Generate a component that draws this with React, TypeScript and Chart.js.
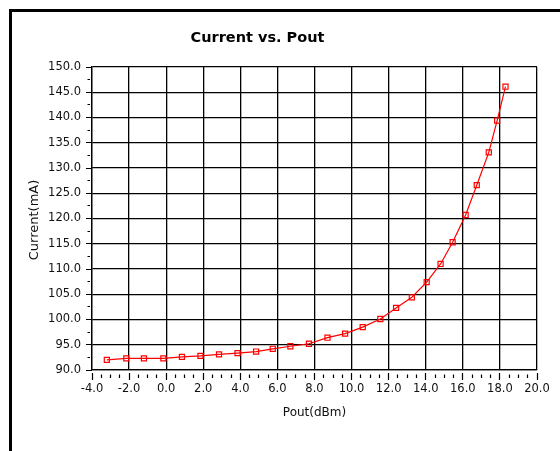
import { useEffect, useRef } from 'react';
import { Chart, registerables } from 'chart.js';

Chart.register(...registerables);

// ---- data ----
const poutDbm = [
  -3.2, -2.15, -1.2, -0.15, 0.85, 1.85, 2.85, 3.85, 4.85, 5.75,
  6.7, 7.7, 8.7, 9.65, 10.6, 11.55, 12.4, 13.25, 14.05, 14.8,
  15.45, 16.15, 16.75, 17.4, 17.85, 18.3,
];
const currentMa = [
  92.0, 92.3, 92.3, 92.3, 92.6, 92.8, 93.1, 93.35, 93.65, 94.2,
  94.7, 95.2, 96.4, 97.2, 98.5, 100.1, 102.3, 104.4, 107.4, 111.0,
  115.3, 120.7, 126.6, 133.1, 139.4, 146.1,
];

const xMin = -4;
const xMax = 20;
const xStep = 2;
const xMinorStep = 0.5;
const yMin = 90;
const yMax = 150;
const yStep = 5;
const yMinorStep = 2.5;

const chartTitle = 'Current vs. Pout';
const xTitle = 'Pout(dBm)';
const yTitle = 'Current(mA)';

const FONT = '"DejaVu Sans", "Liberation Sans", Arial, sans-serif';

const decor = {
  id: 'decor',
  beforeDraw(chart: any) {
    const ctx = chart.ctx as CanvasRenderingContext2D;
    ctx.save();
    ctx.fillStyle = '#ffffff';
    ctx.fillRect(0, 0, chart.width, chart.height);
    ctx.fillStyle = '#000000';
    ctx.fillRect(9, 9, chart.width - 9, 3);
    ctx.fillRect(9, 9, 3, chart.height - 9);
    ctx.restore();
  },
  afterDraw(chart: any) {
    const ctx = chart.ctx as CanvasRenderingContext2D;
    const { x, y } = chart.scales;
    const area = chart.chartArea;
    ctx.save();
    ctx.strokeStyle = '#000000';
    ctx.lineWidth = 1.2;
    ctx.beginPath();
    const nx = Math.round((xMax - xMin) / xMinorStep);
    for (let i = 0; i <= nx; i++) {
      const v = xMin + i * xMinorStep;
      const px = Math.round(x.getPixelForValue(v) - 0.5) + 0.5;
      const major = i % Math.round(xStep / xMinorStep) === 0;
      const b = Math.round(area.bottom);
      if (major) {
        ctx.moveTo(px, b + 3);
        ctx.lineTo(px, b + 10);
      } else {
        ctx.moveTo(px, b + 4.5);
        ctx.lineTo(px, b + 8);
      }
    }
    const ny = Math.round((yMax - yMin) / yMinorStep);
    for (let i = 0; i <= ny; i++) {
      const v = yMin + i * yMinorStep;
      const py = Math.round(y.getPixelForValue(v) - 0.5) + 0.5;
      const major = i % Math.round(yStep / yMinorStep) === 0;
      const l = Math.round(area.left);
      if (major) {
        ctx.moveTo(l - 6, py);
        ctx.lineTo(l, py);
      } else {
        ctx.moveTo(l - 4.5, py);
        ctx.lineTo(l - 2, py);
      }
    }
    ctx.stroke();

    ctx.fillStyle = '#000000';
    ctx.textAlign = 'center';
    ctx.textBaseline = 'middle';
    ctx.font = `bold 14.5px ${FONT}`;
    ctx.fillText(chartTitle, 257.5, 38.5);

    ctx.fillStyle = '#111111';
    ctx.font = `12px ${FONT}`;
    ctx.fillText(xTitle, (area.left + area.right) / 2, 412.5);

    ctx.save();
    ctx.translate(35, 220);
    ctx.rotate(-Math.PI / 2);
    ctx.font = `13px ${FONT}`;
    ctx.fillText(yTitle, 0, 0);
    ctx.restore();

    ctx.restore();
  },
};

export default function App() {
  const ref = useRef<HTMLCanvasElement | null>(null);

  useEffect(() => {
    document.body.style.margin = '0';
    const canvas = ref.current;
    if (!canvas) return;
    const chart = new Chart(canvas, {
      type: 'scatter',
      data: {
        datasets: [
          {
            data: poutDbm.map((xv, i) => ({ x: xv, y: currentMa[i] })),
            showLine: true,
            borderColor: '#ff0000',
            borderWidth: 1.2,
            tension: 0,
            pointStyle: 'rect',
            pointRadius: 3.6,
            pointHoverRadius: 3.6,
            pointBorderColor: '#ff0000',
            pointBackgroundColor: 'rgba(0,0,0,0)',
            pointBorderWidth: 1.2,
          },
        ],
      },
      options: {
        responsive: false,
        animation: false,
        devicePixelRatio: 1,
        layout: { padding: { top: 67, right: 23, left: 0, bottom: 0 } },
        plugins: {
          legend: { display: false },
          tooltip: { enabled: false },
          title: { display: false },
        },
        scales: {
          x: {
            type: 'linear',
            min: xMin,
            max: xMax,
            ticks: {
              stepSize: xStep,
              padding: 12,
              color: '#111111',
              font: { family: FONT, size: 11.5 },
              callback: (v: any) => Number(v).toFixed(1),
            },
            grid: { color: '#000000', lineWidth: 1.3, drawTicks: false },
            border: { display: true, color: '#000000', width: 1.3 },
            afterFit: (s: any) => {
              s.height = 81;
              s.paddingLeft = 0;
              s.paddingRight = 0;
            },
          },
          y: {
            type: 'linear',
            min: yMin,
            max: yMax,
            ticks: {
              stepSize: yStep,
              padding: 11,
              color: '#111111',
              font: { family: FONT, size: 11.5 },
              callback: (v: any) => Number(v).toFixed(1),
            },
            grid: { color: '#000000', lineWidth: 1.3, drawTicks: false },
            border: { display: true, color: '#000000', width: 1.3 },
            afterFit: (s: any) => {
              s.width = 92;
              s.paddingTop = 0;
              s.paddingBottom = 0;
            },
          },
        },
      },
      plugins: [decor],
    });
    return () => chart.destroy();
  }, []);

  return <canvas ref={ref} width={560} height={451} style={{ display: 'block' }} />;
}
